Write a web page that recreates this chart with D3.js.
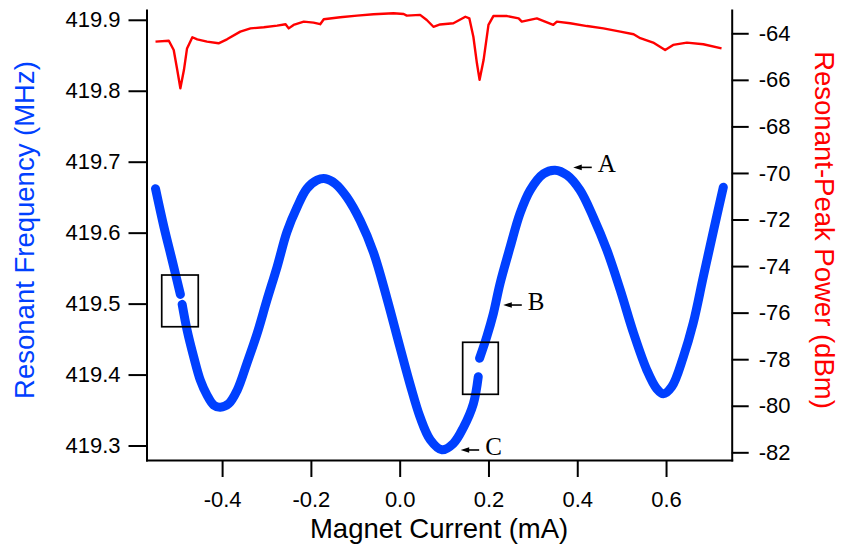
<!DOCTYPE html>
<html>
<head>
<meta charset="utf-8">
<script src="https://cdn.jsdelivr.net/npm/d3@7"></script>
<style>
  body { margin: 0; background: #fff; }
  svg { display: block; }
</style>
</head>
<body>
<svg id="chart" width="841" height="547"></svg>
<script>
// Resonant frequency vs magnet current (null marks a break in the sweep)
const magnetCurrent = [
  -0.550, -0.531, -0.5125, -0.494, null,
  -0.490, -0.479, -0.464, -0.449, -0.434, -0.419, -0.404, -0.385, -0.366, -0.344,
  -0.321, -0.299, -0.276, -0.254, -0.231, -0.209, -0.186, -0.167, -0.145, -0.119,
  -0.089, -0.059, -0.029, 0.000, 0.024, 0.046, 0.069, 0.095, 0.121, 0.144, 0.166, 0.177, null,
  0.180, 0.196, 0.211, 0.226, 0.249, 0.271, 0.294, 0.324, 0.350, 0.377, 0.406,
  0.436, 0.467, 0.497, 0.527, 0.557, 0.579, 0.594, 0.613, 0.639, 0.661, 0.684, 0.707, 0.729
];
const resonantFreq = [
  419.662, 419.608, 419.561, 419.513, null,
  419.499, 419.463, 419.425, 419.392, 419.371, 419.357, 419.354, 419.359, 419.378, 419.416,
  419.458, 419.505, 419.552, 419.601, 419.636, 419.662, 419.674, 419.676, 419.669, 419.650,
  419.617, 419.572, 419.508, 419.440, 419.385, 419.340, 419.308, 419.294, 419.303, 419.326, 419.359, 419.397, null,
  419.423, 419.453, 419.486, 419.528, 419.580, 419.627, 419.660, 419.683, 419.688, 419.681, 419.660,
  419.622, 419.575, 419.519, 419.458, 419.406, 419.380, 419.373, 419.383, 419.425, 419.472, 419.538, 419.603, 419.664
];

// Resonant-peak power vs magnet current
const powerCurrent = [
  -0.550, -0.520, -0.509, -0.501, -0.494, -0.486, -0.479, -0.467, -0.456, -0.434,
  -0.408, -0.389, -0.359, -0.336, -0.306, -0.276, -0.257, -0.250, -0.239, -0.216,
  -0.194, -0.179, -0.171, -0.134, -0.096, -0.059, -0.014, 0.009, 0.016, 0.046,
  0.061, 0.076, 0.091, 0.121, 0.148, 0.157, 0.166, 0.174, 0.180, 0.189,
  0.200, 0.211, 0.242, 0.268, 0.275, 0.309, 0.346, 0.354, 0.384, 0.422,
  0.459, 0.497, 0.527, 0.542, 0.571, 0.598, 0.616, 0.647, 0.684, 0.725
];
const peakPower = [
  -64.36, -64.32, -64.72, -65.58, -66.36, -65.58, -64.65, -64.17, -64.26, -64.36,
  -64.43, -64.26, -63.93, -63.79, -63.74, -63.67, -63.61, -63.79, -63.64, -63.50,
  -63.54, -63.61, -63.40, -63.31, -63.24, -63.18, -63.14, -63.17, -63.24, -63.21,
  -63.43, -63.72, -63.62, -63.57, -63.29, -63.36, -64.15, -65.29, -66.00, -65.15,
  -63.64, -63.26, -63.26, -63.36, -63.50, -63.36, -63.64, -63.50, -63.57, -63.69,
  -63.79, -63.93, -64.04, -64.21, -64.40, -64.72, -64.50, -64.40, -64.47, -64.65
];

const currentTicks = [-0.4, -0.2, 0.0, 0.2, 0.4, 0.6];
const freqTicks = [419.3, 419.4, 419.5, 419.6, 419.7, 419.8, 419.9];
const powerTicks = [-82, -80, -78, -76, -74, -72, -70, -68, -66, -64];

// Labelled points on the frequency curve
const markerLabels = ["A", "B", "C"];
const markerCurrent = [0.391, 0.2334, 0.1374];
const markerFreq = [419.692, 419.498, 419.2937];

// Highlighted regions around the sweep breaks
const boxCurrent = [[-0.536, -0.4537], [0.1419, 0.2221]];
const boxFreq = [[419.4674, 419.5403], [419.3722, 419.4455]];

const BLUE = "#0040ff";
const RED = "#ff0000";
const SANS = "'Liberation Sans', Arial, Helvetica, sans-serif";
const SERIF = "'Liberation Serif', 'Times New Roman', serif";

const svg = d3.select("#chart");
svg.append("rect").attr("width", 841).attr("height", 547).attr("fill", "#fff");

const plot = { left: 146.5, right: 731.7, top: 10, bottom: 460 };

const x = d3.scaleLinear().domain([-0.5703, 0.7479]).range([plot.left, plot.right]);
const yF = d3.scaleLinear().domain([419.2796, 419.9138]).range([plot.bottom, plot.top]);
const yP = d3.scaleLinear().domain([-82.33, -63.0]).range([plot.bottom, plot.top]);

// plain hyphen-minus for negative tick labels
const fmt1 = d => d.toFixed(1);
const fmt0 = d => d.toFixed(0);

// Axes
function styleAxis(g) {
  g.select(".domain").attr("stroke", "#000").attr("stroke-width", 2).attr("stroke-linecap", "square");
  g.selectAll(".tick line").attr("stroke", "#000").attr("stroke-width", 2);
  g.selectAll(".tick text").attr("fill", "#000").style("font-family", SANS).style("font-size", "22px");
  g.attr("font-family", null).attr("font-size", null);
}

svg.append("g")
  .attr("transform", `translate(0,${plot.bottom})`)
  .call(d3.axisBottom(x).tickValues(currentTicks).tickFormat(fmt1)
    .tickSize(17).tickSizeOuter(0).tickPadding(14))
  .call(styleAxis);

svg.append("g")
  .attr("transform", `translate(${plot.left},0)`)
  .call(d3.axisLeft(yF).tickValues(freqTicks).tickFormat(fmt1)
    .tickSize(18).tickSizeOuter(0).tickPadding(8))
  .call(styleAxis);

svg.append("g")
  .attr("transform", `translate(${plot.right},0)`)
  .call(d3.axisRight(yP).tickValues(powerTicks).tickFormat(fmt0)
    .tickSize(17).tickSizeOuter(0).tickPadding(10))
  .call(styleAxis);

// Axis titles
svg.append("text")
  .attr("x", (plot.left + plot.right) / 2).attr("y", 538)
  .attr("text-anchor", "middle")
  .style("font-family", SANS).style("font-size", "27.5px").attr("fill", "#000")
  .text("Magnet Current (mA)");

svg.append("text")
  .attr("transform", "translate(33.5,230) rotate(-90)")
  .attr("text-anchor", "middle")
  .style("font-family", SANS).style("font-size", "27.5px").attr("fill", BLUE)
  .text("Resonant Frequency (MHz)");

svg.append("text")
  .attr("transform", "translate(815,230) rotate(90)")
  .attr("text-anchor", "middle")
  .style("font-family", SANS).style("font-size", "27.5px").attr("fill", RED)
  .text("Resonant-Peak Power (dBm)");

// Peak power trace
const powerData = powerCurrent.map((c, i) => ({ c, p: peakPower[i] }));
svg.append("path")
  .datum(powerData)
  .attr("fill", "none")
  .attr("stroke", RED)
  .attr("stroke-width", 2.4)
  .attr("stroke-linejoin", "round")
  .attr("d", d3.line().x(d => x(d.c)).y(d => yP(d.p)));

// Frequency trace
const freqData = magnetCurrent.map((c, i) => ({ c, f: resonantFreq[i] }));
svg.append("path")
  .datum(freqData)
  .attr("fill", "none")
  .attr("stroke", BLUE)
  .attr("stroke-width", 9)
  .attr("stroke-linecap", "round")
  .attr("stroke-linejoin", "round")
  .attr("d", d3.line()
    .defined(d => d.c != null && d.f != null)
    .x(d => x(d.c)).y(d => yF(d.f))
    .curve(d3.curveCatmullRom.alpha(0.5)));

// Boxes
boxCurrent.forEach((bc, i) => {
  const bf = boxFreq[i];
  svg.append("rect")
    .attr("x", x(bc[0])).attr("y", yF(bf[1]))
    .attr("width", x(bc[1]) - x(bc[0])).attr("height", yF(bf[0]) - yF(bf[1]))
    .attr("fill", "none").attr("stroke", "#000").attr("stroke-width", 1.7);
});

// Point markers with arrows
markerLabels.forEach((lab, i) => {
  const tx = x(markerCurrent[i]);
  const ty = yF(markerFreq[i]);
  const g = svg.append("g");
  g.append("line")
    .attr("x1", tx + 6).attr("y1", ty).attr("x2", tx + 18.5).attr("y2", ty)
    .attr("stroke", "#000").attr("stroke-width", 1.6);
  g.append("path")
    .attr("d", `M${tx},${ty}L${tx + 8.5},${ty - 2.8}L${tx + 8.5},${ty + 2.8}Z`)
    .attr("fill", "#000");
  g.append("text")
    .attr("x", tx + 24.5).attr("y", ty + 5)
    .style("font-family", SERIF).style("font-size", "25px").attr("fill", "#000")
    .text(lab);
});
</script>
</body>
</html>
